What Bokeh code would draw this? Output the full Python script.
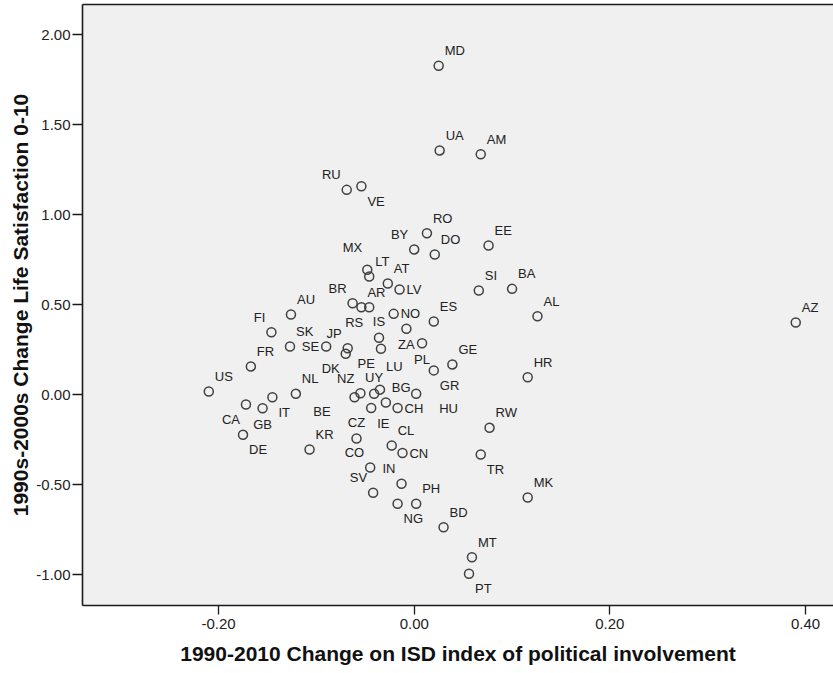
from bokeh.plotting import figure
from bokeh.models import ColumnDataSource, LinearAxis, FixedTicker, NumeralTickFormatter, Range1d
from bokeh.core.properties import value
from bokeh.embed import file_html
from bokeh.resources import INLINE

# ---- data ----
countries = ["MD", "UA", "AM", "RU", "VE", "RO", "BY", "DO", "EE", "MX",
             "LT", "AT", "LV", "SI", "BA", "AU", "BR", "AR", "RS", "NO",
             "ES", "AL", "AZ", "FI", "ZA", "IS", "PL", "SK", "SE", "JP",
             "DK", "PE", "GE", "GR", "FR", "HR", "US", "NL", "IT", "NZ",
             "BE", "UY", "LU", "HU", "CA", "GB", "IE", "BG", "CH", "DE",
             "KR", "CZ", "CL", "CN", "RW", "TR", "CO", "SV", "IN", "NG",
             "PH", "BD", "MK", "MT", "PT"]
change_isd = [0.025, 0.026, 0.068, -0.069, -0.054, 0.013, -0.000, 0.021, 0.076, -0.048,
              -0.046, -0.027, -0.015, 0.066, 0.100, -0.126, -0.063, -0.054, -0.046, -0.021,
              0.020, 0.126, 0.390, -0.146, -0.008, -0.036, 0.008, -0.127, -0.090, -0.068,
              -0.070, -0.034, 0.039, 0.020, -0.167, 0.116, -0.210, -0.121, -0.145, -0.055,
              -0.061, -0.041, -0.035, 0.002, -0.172, -0.155, -0.044, -0.029, -0.017, -0.175,
              -0.107, -0.059, -0.023, -0.012, 0.077, 0.068, -0.045, -0.042, -0.013, -0.017,
              0.002, 0.030, 0.116, 0.059, 0.056]
change_ls = [1.826, 1.356, 1.335, 1.137, 1.157, 0.896, 0.806, 0.778, 0.828, 0.693,
             0.656, 0.617, 0.583, 0.578, 0.587, 0.444, 0.507, 0.485, 0.485, 0.448,
             0.406, 0.435, 0.400, 0.346, 0.365, 0.315, 0.285, 0.267, 0.267, 0.257,
             0.226, 0.254, 0.167, 0.134, 0.156, 0.096, 0.017, 0.004, -0.015, 0.007,
             -0.015, 0.004, 0.027, 0.004, -0.056, -0.076, -0.075, -0.044, -0.075, -0.224,
             -0.306, -0.244, -0.283, -0.325, -0.185, -0.333, -0.406, -0.546, -0.496, -0.607,
             -0.607, -0.737, -0.572, -0.904, -0.996]
# where each point's label sits relative to its marker (style, not data)
label_pos = ["ur", "ur", "ur", "ul", "lr", "ur", "ul", "ur", "ur", "ul2",
             "ur", "ur", "r", "ur", "ur", "ur", "ul", "ur", "ll", "r",
             "ur", "ur", "ur", "ul", "d", "u", "d", "ur", "l", "ul",
             "ll", "ll", "ur", "lr", "ur", "ur", "ur", "ur", "lr", "ul",
             "llf", "u", "ur2", "lrf", "ll", "d", "lr", "ur", "r", "lr",
             "ur", "u", "ur", "r", "ur", "lr", "ul", "ul", "ul", "lr",
             "ur", "ur", "ur", "ur", "lr"]

x_ticks = [-0.2, 0.0, 0.2, 0.4]
y_ticks = [-1.0, -0.5, 0.0, 0.5, 1.0, 1.5, 2.0]

# ---- label placement styles ----
placement = {
    "ur": (6, -15, "left"), "ul": (-6, -15, "right"),
    "lr": (6, 15, "left"), "ll": (-6, 15, "right"),
    "r": (7, 0, "left"), "l": (-7, 0, "right"),
    "u": (0, -16, "center"), "d": (0, 16, "center"),
    "ul2": (-5, -22, "right"), "ur2": (6, -23, "left"),
    "llf": (-24, 14, "right"), "lrf": (23, 15, "left"),
}
dx = [placement[c][0] for c in label_pos]
dy = [placement[c][1] for c in label_pos]
al = [placement[c][2] for c in label_pos]

src = ColumnDataSource(dict(x=change_isd, y=change_ls, name=countries,
                            dx=dx, dy=dy, al=al))

FONT = "Liberation Sans"
INK = "#222222"

p = figure(width=833, height=673, output_backend="svg", toolbar_location=None,
           x_range=Range1d(-0.3391, 0.4286), y_range=Range1d(-1.1722, 2.1667),
           min_border_left=82, min_border_right=0, min_border_top=4, min_border_bottom=68,
           background_fill_color="#f0f0f0", border_fill_color="white",
           outline_line_color=None)

p.xgrid.visible = False
p.ygrid.visible = False

p.scatter("x", "y", source=src, marker="circle", size=9, fill_color=None,
          line_color="#404040", line_width=1.5)
p.text("x", "y", text="name", source=src, x_offset="dx", y_offset="dy",
       text_align="al", text_baseline="middle", text_font=value(FONT),
       text_font_size="13px", text_color=INK)

for ax in (p.xaxis[0], p.yaxis[0]):
    ax.axis_line_color = "#1a1a1a"
    ax.axis_line_width = 1.6
    ax.major_tick_line_color = "#1a1a1a"
    ax.major_tick_line_width = 1.3
    ax.major_tick_in = 0
    ax.minor_tick_line_color = None
    ax.major_label_text_font = FONT
    ax.major_label_text_font_size = "15px"
    ax.major_label_text_color = INK
    ax.axis_label_text_font = FONT
    ax.axis_label_text_font_style = "bold"
    ax.axis_label_text_font_size = "21px"
    ax.axis_label_text_color = "#111111"
    ax.formatter = NumeralTickFormatter(format="0.00")

p.xaxis[0].ticker = FixedTicker(ticks=x_ticks)
p.yaxis[0].ticker = FixedTicker(ticks=y_ticks)
p.xaxis[0].major_tick_out = 9
p.yaxis[0].major_tick_out = 10
p.xaxis[0].major_label_standoff = 4
p.yaxis[0].major_label_standoff = 2
p.xaxis[0].axis_label_standoff = 10
p.yaxis[0].axis_label_standoff = 1
p.xaxis[0].axis_label = "1990-2010 Change on ISD index of political involvement"
p.yaxis[0].axis_label = "1990s-2000s Change Life Satisfaction 0-10"

top = LinearAxis(ticker=FixedTicker(ticks=[]), axis_line_color="#1a1a1a",
                 axis_line_width=1.6, major_tick_out=0, major_tick_in=0,
                 minor_tick_out=0, minor_tick_in=0, major_label_text_font_size="0px",
                 major_label_standoff=0)
p.add_layout(top, "above")

open("out.html", "w").write(file_html(p, INLINE))
